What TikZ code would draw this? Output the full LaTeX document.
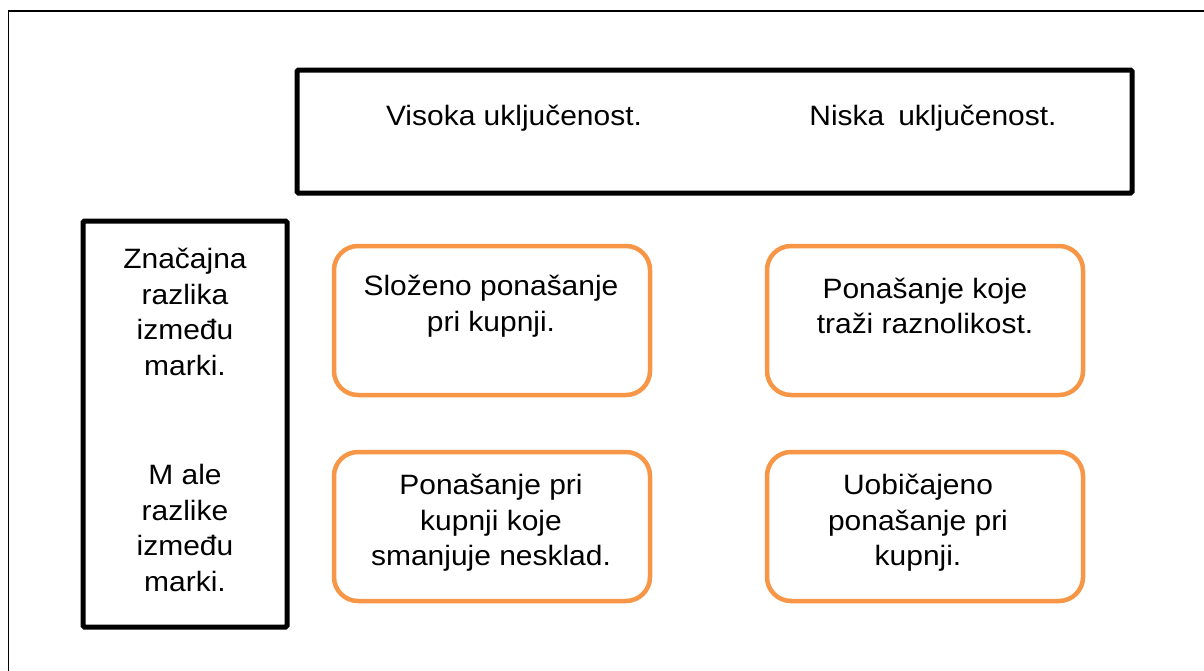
\documentclass[tikz,border=0pt]{standalone}
\usepackage{fontspec}
\setmainfont{Liberation Sans}[FakeStretch=1.07]
\definecolor{boxorange}{HTML}{F79646}
\begin{document}
\begin{tikzpicture}[x=1pt,y=-1pt,
  blackbox/.style={draw=black,line width=5pt,rounded corners=1.5pt,inner sep=0pt},
  orangebox/.style={draw=boxorange,line width=4.5pt,rounded corners=24pt,inner sep=0pt,minimum width=316pt,minimum height=149pt},
  txt/.style={align=center,inner sep=0pt,font=\fontsize{28}{35.5}\selectfont,text=black}]
\useasboundingbox (0,0) rectangle (1204,670);
\draw[line width=1.4pt] (8.5,680) -- (8.5,11) -- (1215,11);
% header boxes
\node[blackbox,minimum width=835pt,minimum height=123pt] (top) at (714.5,131.5) {};
\node[blackbox,minimum width=204pt,minimum height=406pt] (left) at (185,424) {};
% orange boxes
\node[orangebox] (b1) at (492,320.5) {};
\node[orangebox] (b2) at (925,320.5) {};
\node[orangebox] (b3) at (492,526.5) {};
\node[orangebox] (b4) at (925,526.5) {};
% texts
\node[txt] (t1) at (514,118) {Visoka uključenost.};
\node[txt] (t2) at (933,118) {Niska\hspace{0.5em}uključenost.};
\node[txt] (l1) at (185,312) {Značajna\\razlika\\između\\marki.};
\node[txt] (l2) at (185,528) {M ale\\razlike\\između\\marki.};
\node[txt] (c1) at (491,306) {Složeno ponašanje\\pri kupnji.};
\node[txt] (c2) at (925,306) {Ponašanje koje\\traži raznolikost.};
\node[txt] (c3) at (491,523) {Ponašanje pri\\kupnji koje\\smanjuje nesklad.};
\node[txt] (c4) at (918,523) {Uobičajeno\\ponašanje pri\\kupnji.};
\end{tikzpicture}
\end{document}
